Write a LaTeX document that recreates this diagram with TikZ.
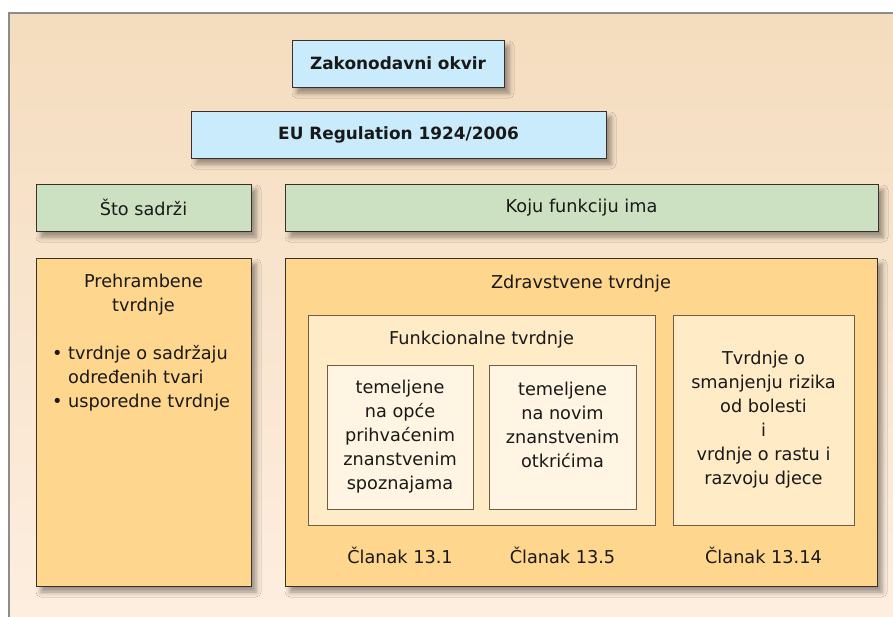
\documentclass[tikz,border=0pt]{standalone}
\usepackage{fontspec}
\setmainfont{DejaVu Sans}
\usetikzlibrary{shadows.blur}

\definecolor{frameline}{HTML}{8C8C8C}
\definecolor{frametop}{HTML}{F4DCBE}
\definecolor{framebottom}{HTML}{FEEFE1}
\definecolor{boxline}{HTML}{3A2F2A}
\definecolor{innerline}{HTML}{6E5C4A}
\definecolor{legalblue}{HTML}{C9EBFB}
\definecolor{questgreen}{HTML}{CCE1C1}
\definecolor{claimorange}{HTML}{FFD68D}
\definecolor{claimlight}{HTML}{FFEBC6}
\definecolor{claimpale}{HTML}{FFF5E2}

\tikzset{
    box/.style 2 args={draw=boxline, line width=1pt, minimum width=#1pt, minimum height=#2pt},
    innerbox/.style 2 args={draw=innerline, line width=1pt, minimum width=#1pt, minimum height=#2pt},
    shadowed/.style={blur shadow={shadow xshift=5pt, shadow yshift=-6pt, shadow blur radius=5pt, shadow opacity=40}},
    boldtext/.style={font=\fontsize{16.9}{24}\selectfont\bfseries},
}

\begin{document}
\begin{tikzpicture}[x=1pt, y=1pt,
    every node/.style={font=\fontsize{17.7}{24}\selectfont, inner sep=0pt, align=center, text=black!90}]
    \useasboundingbox (0,0) rectangle (893,-616);
    \fill[white] (0,0) rectangle (893,-616);
    \clip (0,0) rectangle (893,-616);
    % background frame
    \draw[frameline, line width=2pt, top color=frametop, bottom color=framebottom] (9,-13) rectangle (930,-650);

    % legal framework
    \node[box={212}{47}, fill=legalblue, shadowed, boldtext] (zakon) at (398,-63.5) {Zakonodavni okvir};
    \node[box={415}{47}, fill=legalblue, shadowed, boldtext] (regul) at (398.5,-134.5) {EU Regulation 1924/2006};

    % questions
    \node[box={215}{47}, fill=questgreen, shadowed] (sadrzi) at (143.5,-207.5) {Što sadrži};
    \node[box={593}{47}, fill=questgreen, shadowed] (funkcija) at (581.5,-207.5) {Koju funkciju ima};

    % nutrition claims
    \node[box={215}{328}, fill=claimorange, shadowed] (prehr) at (143.5,-422) {};
    \node (prehrtitle) at (143.5,-295) {Prehrambene\\tvrdnje};
    \node[anchor=west, align=left] (prehrlist) at (68,-378) {\llap{\textbullet\ }tvrdnje o sadržaju\\određenih tvari\\\llap{\textbullet\ }usporedne tvrdnje};

    % health claims
    \node[box={592}{328}, fill=claimorange, shadowed] (zdrav) at (581,-422) {};
    \node (zdravtitle) at (581,-283.5) {Zdravstvene tvrdnje};
    \node[innerbox={347}{210}, fill=claimlight] (funkc) at (481.5,-420) {};
    \node (funkctitle) at (481.5,-339.5) {Funkcionalne tvrdnje};
    \node[innerbox={146}{144}, fill=claimpale] (opce) at (400,-437) {temeljene\\na opće\\prihvaćenim\\znanstvenim\\spoznajama};
    \node[innerbox={147}{144}, fill=claimpale] (novo) at (562.5,-437) {};
    \node (novotext) at (562.5,-425) {temeljene\\na novim\\znanstvenim\\otkrićima};
    \node[innerbox={181}{210}, fill=claimlight] (rizik) at (763.5,-420) {Tvrdnje o\\smanjenju rizika\\od bolesti\\i\\vrdnje o rastu i\\razvoju djece};

    % articles
    \node (clanak1) at (400,-555) {Članak 13.1};
    \node (clanak5) at (562.5,-555) {Članak 13.5};
    \node (clanak14) at (763.5,-555) {Članak 13.14};
\end{tikzpicture}
\end{document}
